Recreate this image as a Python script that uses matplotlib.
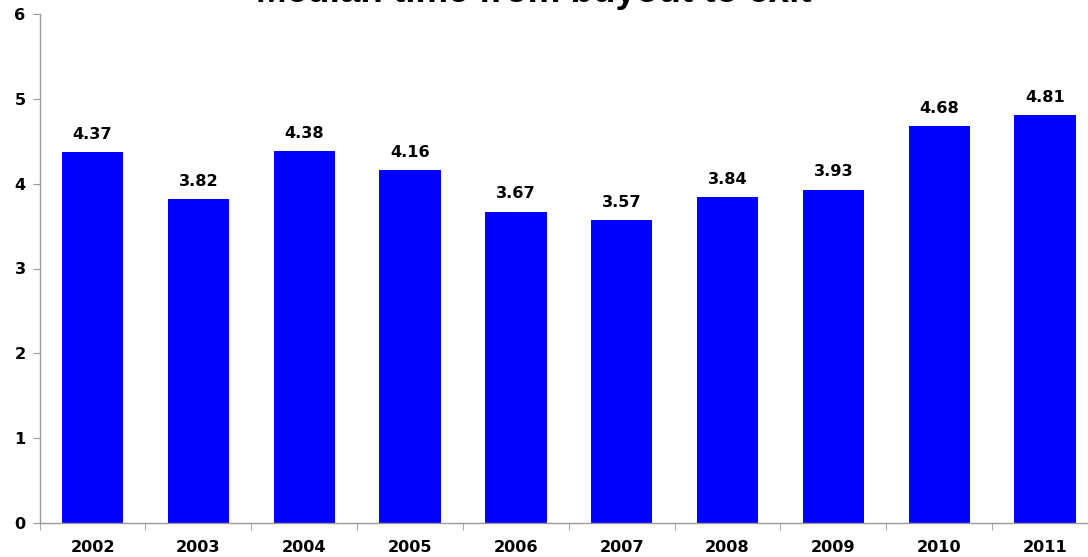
import matplotlib
matplotlib.use("Agg")
import matplotlib.pyplot as plt
import numpy as np

years = ["2002", "2003", "2004", "2005", "2006", "2007", "2008", "2009", "2010", "2011"]
values = [4.37, 3.82, 4.38, 4.16, 3.67, 3.57, 3.84, 3.93, 4.68, 4.81]
title = "Median time from buyout to exit"

W, H = 1088, 557
fig = plt.figure(figsize=(W / 100, H / 100), dpi=100)
left, right = 39.6, 1098
bottom, top = 523, 14
ax = fig.add_axes([left / W, (H - bottom) / H, (right - left) / W, (bottom - top) / H])

FONT = "DejaVu Sans"
FS = 11.6
x = np.arange(len(years))
ax.bar(x, values, width=0.58, color="#0000FF", zorder=2)
for xi, v in zip(x, values):
    ax.annotate(f"{v:.2f}", (xi, v), xytext=(0, 7.5), textcoords="offset points",
                ha="center", va="bottom", fontsize=FS, fontweight="bold",
                family=FONT, color="black")

ax.set_xlim(-0.5, len(years) - 0.5)
ax.set_ylim(0, 6)
ax.set_yticks(range(7))
ax.set_yticklabels([str(i) for i in range(7)], fontsize=FS, fontweight="bold", family=FONT)
ax.set_xticks(x)
ax.set_xticklabels(years, fontsize=FS, fontweight="bold", family=FONT)
ax.set_xticks(np.arange(-0.5, len(years), 1), minor=True)
ax.tick_params(axis="x", which="major", length=0, pad=12)
ax.tick_params(axis="x", which="minor", length=5, color="#999999", direction="out")
ax.tick_params(axis="y", length=5, color="#999999", direction="out", pad=5)
for s in ["top", "right"]:
    ax.spines[s].set_visible(False)
for s in ["left", "bottom"]:
    ax.spines[s].set_color("#999999")
    ax.spines[s].set_linewidth(1.0)

fig.text(534 / W, 1 - 2 / H, title, ha="center", va="baseline", fontsize=26.5,
         fontweight="bold", family="Liberation Sans")

fig.savefig("out.png", dpi=100)
